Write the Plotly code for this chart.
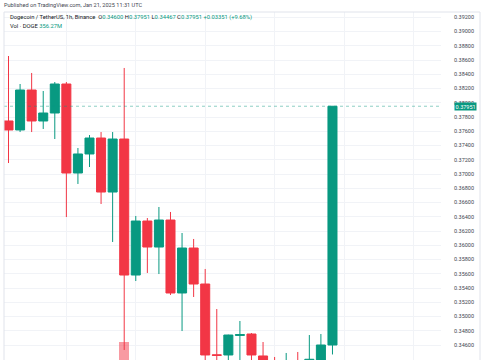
import plotly.graph_objects as go

# ---- data (1h candles, DOGE/USDT) ----
hours = list(range(29))
opens = [0.37744, 0.37618, 0.38179, 0.37744, 0.37856, 0.38263, 0.37014, 0.37281, 0.37505, 0.36747,
         0.37491, 0.35582, 0.36340, 0.35975, 0.36354, 0.35330, 0.35961, 0.35456, 0.34462, 0.34460,
         0.34735, 0.34754, 0.34446, 0.34350, 0.34200, 0.34300, 0.34300, 0.34385, 0.34600]
highs = [0.38656, 0.38263, 0.38418, 0.38165, 0.38291, 0.38291, 0.37365, 0.37547, 0.37589, 0.37589,
         0.38488, 0.36411, 0.36382, 0.36537, 0.36467, 0.36172, 0.36088, 0.35667, 0.35105, 0.34745,
         0.34937, 0.34768, 0.34642, 0.34432, 0.34488, 0.34502, 0.34740, 0.34754, 0.37951]
lows = [0.37154, 0.37589, 0.37589, 0.37632, 0.37491, 0.36396, 0.36860, 0.37098, 0.36579, 0.36046,
        0.34530, 0.35498, 0.35611, 0.35596, 0.35302, 0.34796, 0.35274, 0.34361, 0.34300, 0.34300,
        0.34300, 0.34320, 0.34150, 0.34100, 0.34150, 0.34200, 0.34250, 0.34330, 0.34467]
closes = [0.37618, 0.38179, 0.37744, 0.37856, 0.38263, 0.37014, 0.37281, 0.37505, 0.36747, 0.37491,
          0.35582, 0.36340, 0.35975, 0.36354, 0.35330, 0.35961, 0.35456, 0.34460, 0.34455, 0.34740,
          0.34745, 0.34460, 0.34250, 0.34200, 0.34300, 0.34250, 0.34400, 0.34600, 0.37951]
volumes_m = [180, 210, 190, 120, 160, 420, 250, 170, 280, 300,
             640, 330, 210, 190, 300, 350, 220, 380, 260, 200,
             150, 170, 210, 160, 140, 130, 150, 200, 356.27]

price_ticks = [0.344, 0.346, 0.348, 0.350, 0.352, 0.354, 0.356, 0.358, 0.360, 0.362, 0.364,
               0.366, 0.368, 0.370, 0.372, 0.374, 0.376, 0.378, 0.380, 0.382, 0.384, 0.386,
               0.388, 0.390, 0.392]
price_tick_labels = ["%.5f" % v for v in price_ticks]
time_grid = [5, 11, 17, 23, 29, 35]
last_price = 0.37951

UP = "#089981"
DOWN = "#F23645"
FONT = "Roboto, 'Liberation Sans', sans-serif"

vol_colors = ["rgba(8,153,129,0.5)" if c >= o else "rgba(242,54,69,0.5)" for o, c in zip(opens, closes)]

fig = go.Figure()
fig.add_trace(go.Candlestick(
    x=hours, open=opens, high=highs, low=lows, close=closes,
    increasing=dict(line=dict(color=UP, width=1), fillcolor=UP),
    decreasing=dict(line=dict(color=DOWN, width=1), fillcolor=DOWN),
    whiskerwidth=0, showlegend=False, hoverinfo="skip",
))
fig.add_trace(go.Bar(
    x=hours, y=volumes_m, yaxis="y2", marker=dict(color=vol_colors, line=dict(width=0)),
    width=0.86, showlegend=False, hoverinfo="skip",
))

W, H = 485, 360
L, R, T, B = 4, 44, 12, 0
pw, ph = W - L - R, H - T - B


def px(xp):
    return (xp - L) / pw


def py(yp):
    return (H - B - yp) / ph


fig.update_layout(
    width=W, height=H,
    margin=dict(l=L, r=R, t=T, b=B, pad=0),
    paper_bgcolor="white", plot_bgcolor="white",
    boxgap=0.22, boxgroupgap=0,
    font=dict(family=FONT, size=5.5, color="#434651"),
    xaxis=dict(range=[-0.39, 37.38], tickvals=time_grid, showticklabels=False,
               showgrid=True, gridcolor="#f1f3f7", gridwidth=1, zeroline=False,
               rangeslider=dict(visible=False), showline=False, ticks=""),
    yaxis=dict(range=[0.343895, 0.392737], side="right", tickvals=price_ticks,
               ticktext=price_tick_labels, showgrid=True, gridcolor="#f1f3f7", gridwidth=1,
               zeroline=False, ticks="", ticklabelstandoff=12, showline=False,
               tickfont=dict(size=5.5, color="#434651")),
    yaxis2=dict(overlaying="y", range=[443, 4297], showgrid=False, showticklabels=False,
                zeroline=False, side="left"),
    bargap=0,
)

# current price line
fig.add_shape(type="line", xref="paper", yref="y", x0=0, x1=1, y0=last_price, y1=last_price,
              line=dict(color=UP, width=1, dash="dot"), opacity=0.45)
# chart frame
fig.add_shape(type="rect", xref="paper", yref="paper", x0=0, x1=px(480), y0=-0.1, y1=1,
              line=dict(color="#e0e3eb", width=1), fillcolor="rgba(0,0,0,0)", layer="above")

# current price label
fig.add_annotation(xref="paper", yref="y", x=px(465.5), y=last_price, text="%.5f" % last_price,
                   showarrow=False, bgcolor=UP, font=dict(color="white", size=5.5, family=FONT),
                   borderpad=0.6, xanchor="center", yanchor="middle")

g = lambda s: '<span style="color:%s">%s</span>' % (UP, s)
header = ("Dogecoin / TetherUS, 1h, Binance  O" + g("%.5f" % opens[-1]) + " H" + g("%.5f" % highs[-1])
          + " L" + g("%.5f" % lows[-1]) + " C" + g("%.5f" % closes[-1]) + " " + g("+0.03351 (+9.68%)"))
fig.add_annotation(xref="paper", yref="paper", x=px(8), y=py(17.5), text=header, showarrow=False,
                   xanchor="left", yanchor="middle", font=dict(size=5.8, color="#131722", family=FONT))
fig.add_annotation(xref="paper", yref="paper", x=px(8), y=py(25.5), text="Vol · DOGE " + g("356.27M"),
                   showarrow=False, xanchor="left", yanchor="middle",
                   font=dict(size=5.8, color="#131722", family=FONT))
fig.add_annotation(xref="paper", yref="paper", x=px(2), y=py(5.5),
                   text="Published on TradingView.com, Jan 21, 2025 11:31 UTC", showarrow=False,
                   xanchor="left", yanchor="middle", font=dict(size=5.6, color="#434651", family=FONT))

fig.write_html("out.html")
